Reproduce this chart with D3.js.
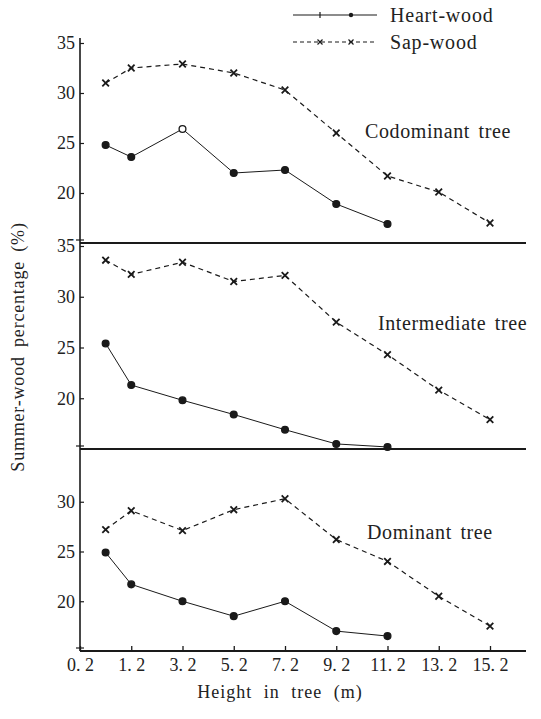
<!DOCTYPE html>
<html><head><meta charset="utf-8">
<script src="https://cdn.jsdelivr.net/npm/d3@7"></script>
<style>body{margin:0;background:#fff}svg{display:block}</style>
</head><body><svg id="c" width="541" height="719"></svg>
<script>
// ---- data ----
const xTickLabels = ["0. 2","1. 2","3. 2","5. 2","7. 2","9. 2","11. 2","13. 2","15. 2"];
const xTickIndex = [0,1,2,3,4,5,6,7,8];
// measuring positions on the (index-based) height axis
const xPositions = [0.5,1,2,3,4,5,6,7,8];
const panelNames = ["Codominant tree","Intermediate tree","Dominant tree"];
const codominantHeart = [24.8,23.6,26.4,22.0,22.3,18.9,16.9];
const codominantSap = [31.0,32.5,32.9,32.0,30.3,26.0,21.7,20.1,17.0];
const intermediateHeart = [25.4,21.3,19.8,18.4,16.9,15.5,15.2];
const intermediateSap = [33.6,32.2,33.4,31.5,32.1,27.5,24.3,20.8,17.9];
const dominantHeart = [24.9,21.7,20.0,18.5,20.0,17.0,16.5];
const dominantSap = [27.2,29.1,27.1,29.2,30.3,26.2,24.0,20.5,17.5];
const yDomain = [15,35];
const yTickSets = [[20,25,30,35],[20,25,30,35],[20,25,30]];
const legendNames = ["Heart-wood","Sap-wood"];

const panels = [
  {name:panelNames[0], heart:codominantHeart, sap:codominantSap, ticks:yTickSets[0]},
  {name:panelNames[1], heart:intermediateHeart, sap:intermediateSap, ticks:yTickSets[1]},
  {name:panelNames[2], heart:dominantHeart, sap:dominantSap, ticks:yTickSets[2]}
];

// ---- layout ----
const FONT = "'Liberation Serif','Times New Roman',Times,'DejaVu Serif','Noto Serif',serif";
const svg = d3.select("#c");
const axX = 80, rightEdge = 526;
const panelBox = [[43,243],[246,449],[452,651]];
const x = d3.scaleLinear().domain([0,8]).range([80,490]);
const ink = "#1a1a1a";
function txt(sel){ return sel.style("font-family",FONT).style("fill","#222"); }

panels.forEach((p,i)=>{
  const [top,bot] = panelBox[i];
  const y = d3.scaleLinear().domain(yDomain).range([bot,top]);
  const g = svg.append("g");
  const ax = d3.axisLeft(y).tickValues(p.ticks).tickSize(-4).tickPadding(5).tickFormat(d3.format("d"));
  const ag = g.append("g").attr("transform",`translate(${axX},0)`).call(ax);
  ag.select(".domain").remove();
  ag.selectAll("line").attr("stroke",ink).attr("stroke-width",1.2);
  txt(ag.selectAll("text")).style("font-size","18px");
  g.append("line").attr("x1",axX-4).attr("x2",axX+4).attr("y1",y(15)-3).attr("y2",y(15)-3).attr("stroke",ink).attr("stroke-width",1.2);
  g.append("line").attr("x1",axX).attr("x2",rightEdge).attr("y1",y(15)).attr("y2",y(15)).attr("stroke",ink).attr("stroke-width",2);

  const heartPts = p.heart.map((v,k)=>[x(xPositions[k]),y(v)]);
  const sapPts = p.sap.map((v,k)=>[x(xPositions[k]),y(v)]);
  const line = d3.line();
  g.append("path").attr("d",line(sapPts)).attr("fill","none").attr("stroke",ink).attr("stroke-width",1.2).attr("stroke-dasharray","5,4");
  g.append("path").attr("d",line(heartPts)).attr("fill","none").attr("stroke",ink).attr("stroke-width",1);
  heartPts.forEach((pt,k)=>{
    const open = (i===0 && k===2);
    g.append("circle").attr("cx",pt[0]).attr("cy",pt[1]).attr("r",3.4)
      .attr("fill",open?"#fff":ink).attr("stroke",ink).attr("stroke-width",1.3);
  });
  sapPts.forEach(pt=>{
    const s=3.3;
    g.append("path").attr("d",`M${pt[0]-s},${pt[1]-s}L${pt[0]+s},${pt[1]+s}M${pt[0]-s},${pt[1]+s}L${pt[0]+s},${pt[1]-s}`)
      .attr("stroke",ink).attr("stroke-width",1.8);
  });
  const labelY = [131,323,532][i];
  const labelX = [365,378,367][i];
  txt(g.append("text").attr("x",labelX).attr("y",labelY).attr("dy","0.35em")).style("font-size","20px").style("letter-spacing","0.6px").style("word-spacing","3px").text(p.name);
});

svg.append("line").attr("x1",axX).attr("x2",axX).attr("y1",38).attr("y2",651).attr("stroke",ink).attr("stroke-width",1.6);

const xa = d3.axisBottom(x).tickValues(xTickIndex).tickSize(-5).tickPadding(7).tickFormat((d,i)=>xTickLabels[i]);
const xg = svg.append("g").attr("transform","translate(0,651)").call(xa);
xg.select(".domain").remove();
xg.selectAll("line").attr("stroke",ink).attr("stroke-width",1.3);
txt(xg.selectAll("text")).style("font-size","18px");

txt(svg.append("text").attr("x",280).attr("y",692).attr("dy","0.35em").attr("text-anchor","middle")).style("font-size","18px").style("letter-spacing","1px").style("word-spacing","6px").text("Height in tree (m)");
txt(svg.append("text").attr("transform","translate(18,347) rotate(-90)").attr("text-anchor","middle").attr("dy","0.35em")).style("font-size","18px").style("letter-spacing","0.8px").style("word-spacing","4px").text("Summer-wood percentage (%)");

const lg = svg.append("g");
const lx0=293, lx1=377;
[15,42].forEach((ly,i)=>{
  lg.append("line").attr("x1",lx0).attr("x2",lx1).attr("y1",ly).attr("y2",ly).attr("stroke",ink).attr("stroke-width",1.1)
    .attr("stroke-dasharray", i===0 ? null : "4,3");
  if(i===0){
    lg.append("line").attr("x1",lx0+27).attr("x2",lx0+27).attr("y1",ly-3).attr("y2",ly+3).attr("stroke",ink).attr("stroke-width",1.2);
    lg.append("circle").attr("cx",lx0+58).attr("cy",ly).attr("r",2.2).attr("fill",ink);
  } else {
    [lx0+27,lx0+58].forEach(cx=>{
      const s=2.5;
      lg.append("path").attr("d",`M${cx-s},${ly-s}L${cx+s},${ly+s}M${cx-s},${ly+s}L${cx+s},${ly-s}`).attr("stroke",ink).attr("stroke-width",1.2);
    });
  }
  txt(lg.append("text").attr("x",390).attr("y",ly).attr("dy","0.35em")).style("font-size","20px").style("letter-spacing","0.8px").text(legendNames[i]);
});
</script></body></html>
